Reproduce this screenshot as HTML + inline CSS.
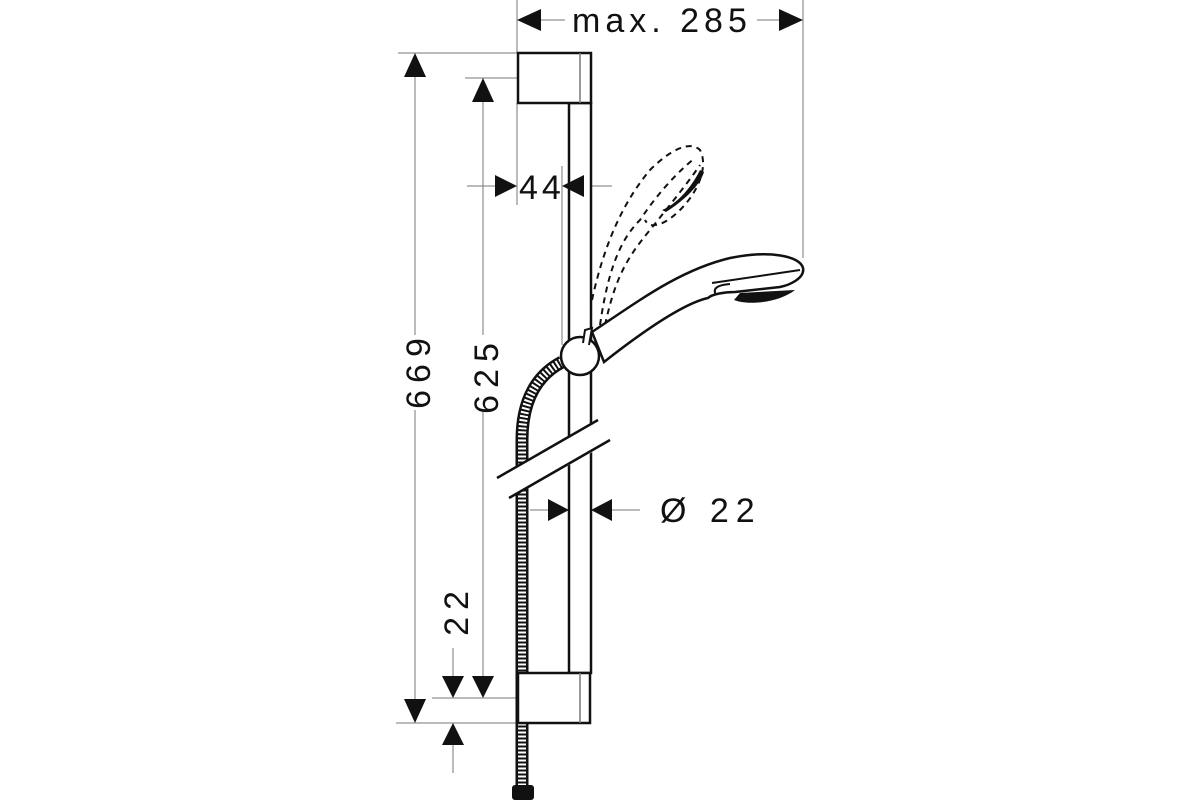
<!DOCTYPE html>
<html><head><meta charset="utf-8"><style>
html,body{margin:0;padding:0;background:#fff;}
svg{display:block;}
text{font-family:"Liberation Sans",sans-serif;fill:#111;}
</style></head><body>
<svg width="1200" height="800" viewBox="0 0 1200 800" xmlns="http://www.w3.org/2000/svg">
<g stroke="#777" stroke-width="1" fill="none">
<line x1="517" y1="0" x2="517" y2="53"/>
<line x1="803" y1="0" x2="803" y2="258"/>
<line x1="398" y1="53" x2="517" y2="53"/>
<line x1="396" y1="723" x2="517" y2="723"/>
<line x1="465" y1="78" x2="517" y2="78"/>
<line x1="432" y1="698" x2="517" y2="698"/>
<line x1="517" y1="103" x2="517" y2="205"/>
<line x1="562" y1="166" x2="562" y2="345"/>
<line x1="541" y1="20" x2="565" y2="20"/>
<line x1="757" y1="20" x2="780" y2="20"/>
<line x1="415" y1="75" x2="415" y2="335"/>
<line x1="415" y1="410" x2="415" y2="700"/>
<line x1="483" y1="100" x2="483" y2="335"/>
<line x1="483" y1="410" x2="483" y2="677"/>
<line x1="453" y1="648" x2="453" y2="677"/>
<line x1="453" y1="745" x2="453" y2="773"/>
<line x1="467" y1="186" x2="497" y2="186"/>
<line x1="583" y1="186" x2="612" y2="186"/>
<line x1="530" y1="510" x2="550" y2="510"/>
<line x1="612" y1="510" x2="640" y2="510"/>
</g>
<g fill="#111">
<polygon points="517,20 541,9 541,31"/>
<polygon points="803,20 779,9 779,31"/>
<polygon points="415,53 404,77 426,77"/>
<polygon points="415,723 404,699 426,699"/>
<polygon points="483,78 472,102 494,102"/>
<polygon points="483,698 472,676 494,676"/>
<polygon points="453,698 442,676 464,676"/>
<polygon points="453,723 442,745 464,745"/>
<polygon points="517,186 495,175 495,197"/>
<polygon points="569,510 548,499 548,521"/>
<polygon points="591,510 612,499 612,521"/>
</g>
<text x="572" y="32" font-size="34" letter-spacing="5">max. 285</text>
<text x="519" y="199" font-size="34" letter-spacing="4">44</text>
<text x="660" y="522" font-size="34" letter-spacing="7">Ø 22</text>
<text transform="translate(430,370) rotate(-90)" font-size="34" letter-spacing="7" text-anchor="middle">669</text>
<text transform="translate(498,375) rotate(-90)" font-size="34" letter-spacing="7" text-anchor="middle">625</text>
<text transform="translate(468,610) rotate(-90)" font-size="34" letter-spacing="7" text-anchor="middle">22</text>
<path d="M562,362 C537,375 522,400 522,440 L522,790" stroke="#111" stroke-width="13" fill="none"/>
<path d="M562,362 C537,375 522,400 522,440 L522,790" stroke="#fff" stroke-width="8" stroke-dasharray="2 2" fill="none"/>
<rect x="512" y="785" width="22" height="15" rx="3" fill="#111"/>
<g stroke="#111" stroke-width="2.5" fill="#fff">
<rect x="569" y="103" width="22" height="570"/>
<rect x="518" y="53" width="73" height="50"/>
<rect x="518" y="673" width="72" height="50"/>
</g>
<line x1="580" y1="53" x2="580" y2="103" stroke="#777" stroke-width="1.5"/>
<line x1="580" y1="673" x2="580" y2="723" stroke="#777" stroke-width="1.5"/>
<polygon points="495,479 600,418 612,441 507,500" fill="#fff"/>
<g stroke="#111" stroke-width="2.5" fill="none">
<line x1="497" y1="478" x2="598" y2="420"/>
<line x1="509" y1="498" x2="610" y2="440"/>
</g>
<polygon points="562,186 584,175 584,197" fill="#111"/>
<g stroke="#111" stroke-width="2" fill="none" stroke-dasharray="6 5">
<path d="M592,300 C605,240 625,200 650,170 C670,150 690,140 700,150 C708,165 700,190 680,210 C665,225 650,230 645,220"/>
<path d="M600,325 C608,270 620,240 640,220 C660,190 680,170 695,158"/>
<path d="M605,325 C615,280 625,260 650,230 C670,205 690,180 700,165"/>
</g>
<path d="M666,212 C685,200 700,185 704,172 L700,170 C690,190 675,205 662,210 Z" fill="#111"/>
<path d="M592,332 C640,300 680,270 730,258 C770,250 800,256 803,268 C805,278 790,285 780,287 L735,292 C725,292 712,294 708,298 C690,302 660,318 604,362 Z" fill="#fff" stroke="#111" stroke-width="2.5"/>
<path d="M712,283 L800,270" stroke="#111" stroke-width="2"/>
<path d="M716,295 C712,288 718,285 730,284" stroke="#111" stroke-width="2" fill="none"/>
<path d="M734,300 C750,306 780,302 795,290 L740,293 Z" fill="#111"/>
<circle cx="580" cy="356" r="19" fill="#fff" stroke="#111" stroke-width="2.5"/>
<path d="M583,343 L585,330 L592,328 L589,345" fill="#fff" stroke="#111" stroke-width="2"/>
</svg>
</body></html>
